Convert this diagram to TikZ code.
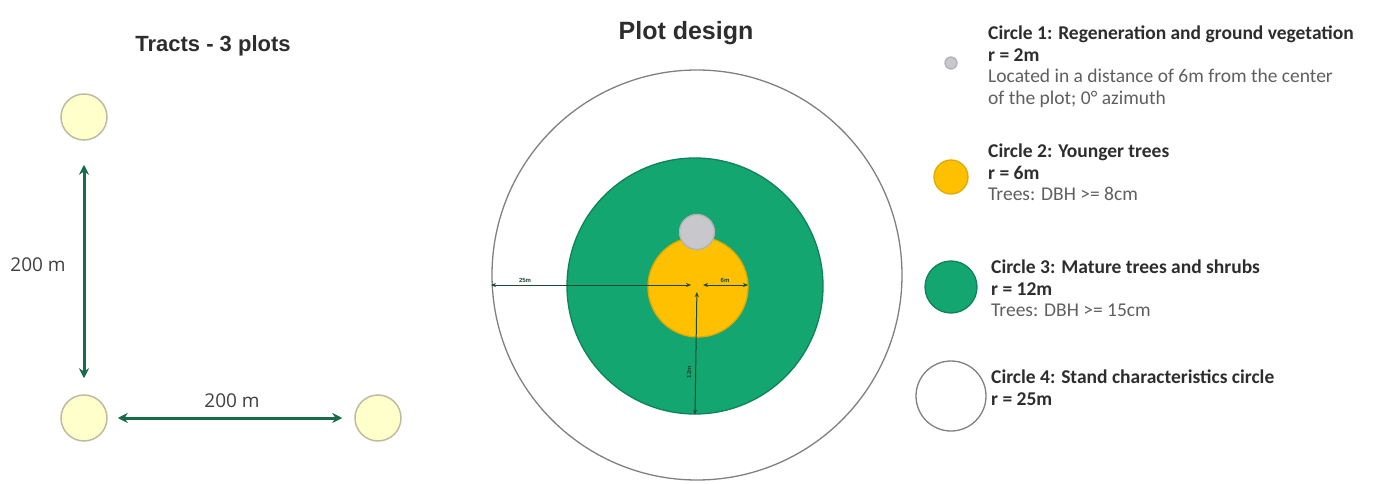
\documentclass[tikz,border=0pt]{standalone}
\usepackage{fontspec}
\setmainfont{Carlito}
\newfontfamily\headfont{Liberation Sans}
\newfontfamily\distfont{Open Sans}
\usetikzlibrary{arrows.meta}
\definecolor{plotgreen}{RGB}{20,166,112}
\definecolor{plotgreenline}{RGB}{14,130,88}
\definecolor{plotyellow}{RGB}{255,192,0}
\definecolor{plotyellowline}{RGB}{225,170,0}
\definecolor{plotgrey}{RGB}{200,200,204}
\definecolor{tractfill}{RGB}{255,255,204}
\definecolor{tractline}{RGB}{190,188,160}
\definecolor{arrowgreen}{RGB}{24,108,72}
\definecolor{dimline}{RGB}{30,70,50}
\definecolor{legendhead}{RGB}{45,45,45}
\definecolor{legendtext}{RGB}{95,95,95}
\tikzset{
  tractplot/.style={circle, draw=tractline, fill=tractfill, line width=1.5pt,
                    minimum size=46pt, inner sep=0pt},
  tractarrow/.style={draw=arrowgreen, line width=3pt,
                     {Stealth[length=10pt,width=10pt]}-{Stealth[length=10pt,width=10pt]}},
  ring/.style={circle, inner sep=0pt, line width=1.3pt},
  standring/.style={ring, draw=black!50, fill=white},
  maturering/.style={ring, draw=plotgreenline, fill=plotgreen},
  youngring/.style={ring, draw=plotyellowline, fill=plotyellow},
  regenring/.style={ring, draw=black!30, fill=plotgrey},
  dimarrow/.style={draw=dimline, line width=1pt,
                   {Stealth[length=5pt,width=4pt]}-{Stealth[length=5pt,width=4pt]}},
  dimlabel/.style={font=\headfont\bfseries\fontsize{6}{7}\selectfont, text=dimline},
  headline/.style={font=\headfont\bfseries\fontsize{22}{26}\selectfont, text=legendhead},
  distlabel/.style={font=\distfont\fontsize{19}{22}\selectfont, text=black!75},
  legendnote/.style={anchor=north west, align=left, inner sep=0pt,
                     font=\fontsize{19.5}{21.5}\selectfont, text=legendtext}
}

\begin{document}
\begin{tikzpicture}[x=1pt, y=-1pt]
  \useasboundingbox (0,0) rectangle (1374,484);
  % tracts
  \node[headline] (tracttitle) at (213,46) {Tracts - 3 plots};
  \node[tractplot] (plotnorth) at (84,117) {};
  \node[tractplot] (plotsw)    at (84,418) {};
  \node[tractplot] (plotse)    at (378,418) {};
  \draw[tractarrow, shorten <=24pt, shorten >=16pt] (plotnorth) -- (plotsw);
  \draw[tractarrow, shorten <=10pt, shorten >=12pt] (plotsw) -- (plotse);
  \node[distlabel] (distnorth) at (38,265) {200 m};
  \node[distlabel] (distse)    at (232,401) {200 m};
  % plot design
  \node[headline, font=\headfont\bfseries\fontsize{25}{29}\selectfont]
    (plottitle) at (686,33) {Plot design};
  \node[standring, minimum size=410pt] (stand)  at (697,275) {};
  \node[maturering, minimum size=256pt] (mature) at (695,286) {};
  \node[youngring, minimum size=100pt] (young)  at (698,287) {};
  \node[regenring, minimum size=35pt] (regen)  at (697,232) {};
  \coordinate (centre) at (697,285);
  \coordinate (edgestand) at (491,285);
  \coordinate (edgeyoung) at (748,285);
  \draw[dimarrow, shorten >=6pt] (edgestand) -- (centre);
  \draw[dimarrow, shorten <=6pt] (centre) -- (edgeyoung);
  \draw[dimarrow, shorten <=7pt] (centre) -- (mature.south);
  \node[dimlabel] (lab25) at (525,280) {25m};
  \node[dimlabel] (lab6)  at (725,280) {6m};
  \node[dimlabel, rotate=90] (lab12) at (689,372) {12m};
  % legend
  \foreach \name/\pos/\size/\kind in {keyregen/63/12/regenring,
      keyyoung/177/34/youngring, keymature/287/52/maturering,
      keystand/396/70/standring} {
    \node[\kind, minimum size=\size pt] (\name) at (951,\pos) {};
  }
  \node[legendnote] (noteregen) at (988,26)
    {\textbf{\color{legendhead}Circle 1: Regeneration and ground vegetation}\\
     \textbf{\color{legendhead}r = 2m}\\
     Located in a distance of 6m from the center\\
     of the plot; 0° azimuth};
  \node[legendnote] (noteyoung) at (988,144)
    {\textbf{\color{legendhead}Circle 2: Younger trees}\\
     \textbf{\color{legendhead}r = 6m}\\
     Trees: DBH >= 8cm};
  \node[legendnote] (notemature) at (991,260)
    {\textbf{\color{legendhead}Circle 3: Mature trees and shrubs}\\
     \textbf{\color{legendhead}r = 12m}\\
     Trees: DBH >= 15cm};
  \node[legendnote] (notestand) at (991,370)
    {\textbf{\color{legendhead}Circle 4: Stand characteristics circle}\\
     \textbf{\color{legendhead}r = 25m}};
\end{tikzpicture}
\end{document}
